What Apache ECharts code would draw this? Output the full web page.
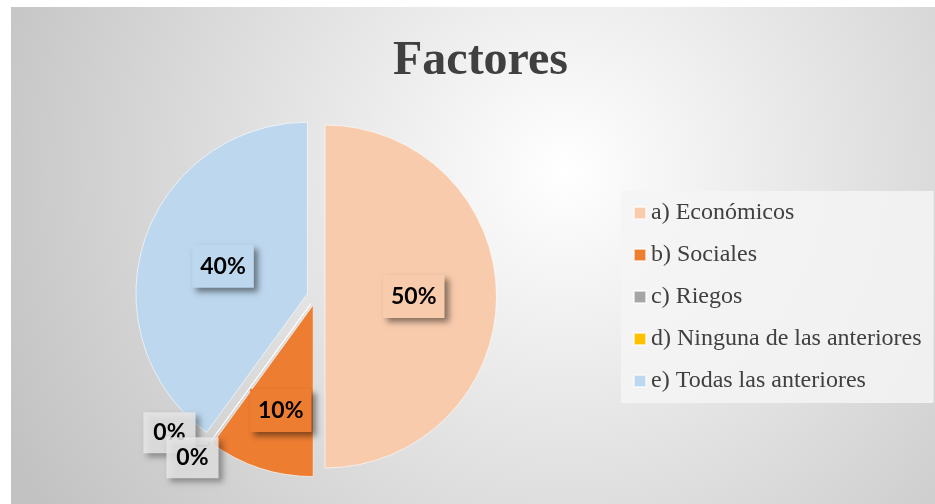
<!DOCTYPE html>
<html>
<head>
<meta charset="utf-8">
<script src="https://cdn.jsdelivr.net/npm/echarts@6/dist/echarts.min.js"></script>
<style>
  html, body { margin: 0; padding: 0; background: #fff; }
  #main { width: 935px; height: 504px; }
</style>
</head>
<body>
<div id="main"></div>
<script>
var categories = ['a) Económicos', 'b) Sociales', 'c) Riegos', 'd) Ninguna de las anteriores', 'e) Todas las anteriores'];
var values = [50, 10, 0, 0, 40];
var colors = ['#F8CBAD', '#ED7D31', '#A5A5A5', '#FFC000', '#BDD7EE'];

var insideLabel = function (bg) {
    return {
        position: 'inside',
        backgroundColor: bg,
        padding: [10, 8],
        shadowBlur: 6,
        shadowColor: 'rgba(0,0,0,0.45)',
        shadowOffsetX: 4,
        shadowOffsetY: 4
    };
};
var zeroLabel = function () {
    return {
        position: 'outside',
        backgroundColor: 'rgba(232,232,232,0.85)',
        padding: [9, 10],
        shadowBlur: 6,
        shadowColor: 'rgba(0,0,0,0.4)',
        shadowOffsetX: 4,
        shadowOffsetY: 4
    };
};
var labels = [
    insideLabel(colors[0]),
    insideLabel(colors[1]),
    zeroLabel(),
    zeroLabel(),
    insideLabel(colors[4])
];
// nudges so the labels sit where the original chart put them
var labelShift = [[0, 0], [-5, 21], [5, -13], [28, 12], [0, 0]];

var pieData = categories.map(function (name, i) {
    return {
        name: name,
        value: values[i],
        selected: true,
        itemStyle: { color: colors[i] },
        label: labels[i]
    };
});

echarts.init(document.getElementById('main')).setOption({
    backgroundColor: '#ffffff',
    animation: false,
    graphic: [{
        type: 'rect',
        z: -10,
        silent: true,
        shape: { x: 11, y: 7, width: 924, height: 497 },
        style: {
            fill: {
                type: 'radial', x: 0.6, y: 0.33, r: 1.25,
                colorStops: [
                    { offset: 0, color: '#ffffff' },
                    { offset: 1, color: '#c2c2c2' }
                ]
            }
        }
    }],
    title: {
        text: 'Factores',
        left: 388,
        top: 33,
        textStyle: {
            fontFamily: 'Liberation Serif',
            fontWeight: 'bold',
            fontSize: 48,
            color: '#404040'
        }
    },
    legend: {
        orient: 'vertical',
        left: 621,
        top: 191,
        padding: [10, 12, 10, 12],
        backgroundColor: 'rgba(244,244,244,0.85)',
        itemWidth: 12,
        itemHeight: 12,
        itemGap: 18,
        icon: 'rect',
        data: categories,
        textStyle: {
            fontFamily: 'Liberation Serif',
            fontSize: 24,
            lineHeight: 24,
            color: '#404040'
        }
    },
    series: [{
        type: 'pie',
        center: [316, 296.5],
        radius: 171.5,
        startAngle: 90,
        selectedMode: 'multiple',
        selectedOffset: 9,
        avoidLabelOverlap: false,
        emphasis: { disabled: true },
        itemStyle: {
            borderColor: 'rgba(255,255,255,0.6)',
            borderWidth: 1
        },
        label: {
            formatter: '{d}%',
            fontFamily: 'Lato',
            fontWeight: 'bold',
            fontSize: 23,
            lineHeight: 23,
            color: '#000000'
        },
        labelLine: {
            show: true,
            length: 4,
            length2: 12,
            lineStyle: { color: '#595959', width: 1 }
        },
        labelLayout: function (params) {
            var s = labelShift[params.dataIndex];
            return { dx: s[0], dy: s[1], hideOverlap: false };
        },
        data: pieData
    }]
});
</script>
</body>
</html>
